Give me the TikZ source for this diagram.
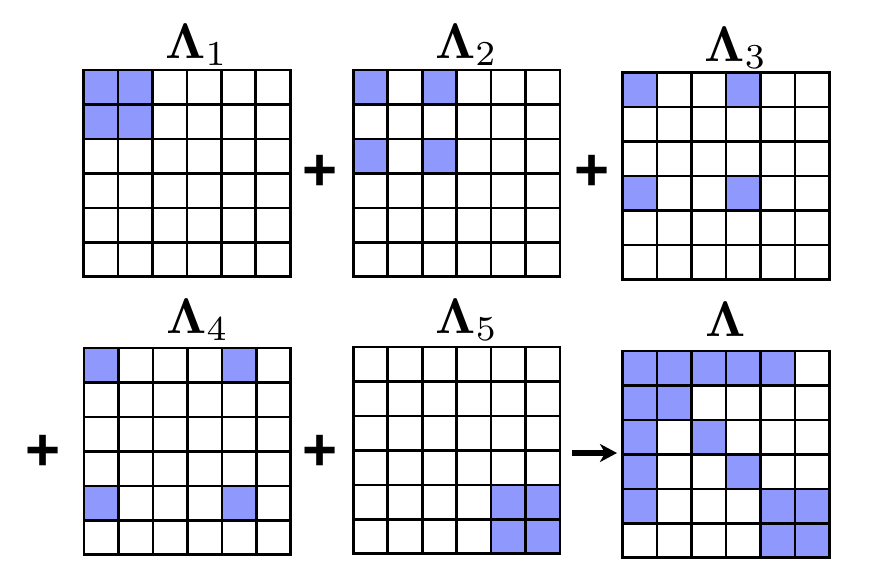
\documentclass[tikz,border=0pt]{standalone}
\usepackage{graphicx}
\usepackage{mathtools}
\usepackage[no-math]{fontspec}
\newfontfamily\plusfont{Liberation Sans}
\usetikzlibrary{arrows.meta}
\definecolor{cellblue}{RGB}{143,152,252}
\tikzset{
  gridline/.style={line width=2.6pt, line cap=rect},
  cellfill/.style={fill=cellblue},
  gridlabel/.style={inner sep=0pt, anchor=base},
  plussign/.style={inner sep=0pt, font=\fontsize{60}{70}\selectfont\plusfont\bfseries},
  arrowline/.style={line width=6pt, -{Stealth[length=17pt,width=18pt,inset=5pt]}},
}
\newcommand\cs{34.45}
\newcommand\gs{206.7}
\newcommand\biglab[1]{\scalebox{5}{$#1$}}
\newcommand\mygrid[4]{%
  \begin{scope}[shift={(#2,#3)}]
    \foreach \r/\c in {#4} {\fill[cellfill] (\c*\cs,\r*\cs) rectangle ++(\cs,\cs);}
    \foreach \i in {0,...,6} {
      \draw[gridline] (\i*\cs,0) -- (\i*\cs,\gs);
      \draw[gridline] (0,\i*\cs) -- (\gs,\i*\cs);
    }
  \end{scope}
  \node[name=#1, inner sep=0pt, minimum width=\gs pt, minimum height=\gs pt, anchor=north west] at (#2,#3) {};
}
\begin{document}
\begin{tikzpicture}[x=1pt, y=-1pt]
\useasboundingbox (0,0) rectangle (884,570);
\mygrid{g1}{83.5}{70}{0/0,0/1,1/0,1/1}
\mygrid{g2}{353.3}{70}{0/0,0/2,2/0,2/2}
\mygrid{g3}{622.7}{72.7}{0/0,0/3,3/0,3/3}
\mygrid{g4}{84}{348}{0/0,0/4,4/0,4/4}
\mygrid{g5}{353.3}{347}{4/4,4/5,5/4,5/5}
\mygrid{g6}{622.7}{351}{0/0,0/1,0/2,0/3,0/4,1/0,1/1,2/0,2/2,3/0,3/3,4/0,4/4,4/5,5/4,5/5}
\node[gridlabel] (l1) at (186.8,58.3) {\biglab{\mathbf{\Lambda}_{\mathrlap{1}}}};
\node[gridlabel] (l2) at (456.6,58.3) {\biglab{\mathbf{\Lambda}_{\mathrlap{2}}}};
\node[gridlabel] (l3) at (726,61.5) {\biglab{\mathbf{\Lambda}_{\mathrlap{3}}}};
\node[gridlabel] (l4) at (187.7,333) {\biglab{\mathbf{\Lambda}_{\mathrlap{4}}}};
\node[gridlabel] (l5) at (457,333) {\biglab{\mathbf{\Lambda}_{\mathrlap{5}}}};
\node[gridlabel] (l6) at (726,336.7) {\biglab{\mathbf{\Lambda}}};
\node[plussign] (p1) at (320,173) {+};
\node[plussign] (p2) at (592,173) {+};
\node[plussign] (p3) at (43,453) {+};
\node[plussign] (p4) at (320,453) {+};
\coordinate (arrS) at (572,453);
\draw[arrowline, shorten >=5.7pt] (arrS) -- (g6.west |- arrS);
\end{tikzpicture}
\end{document}
